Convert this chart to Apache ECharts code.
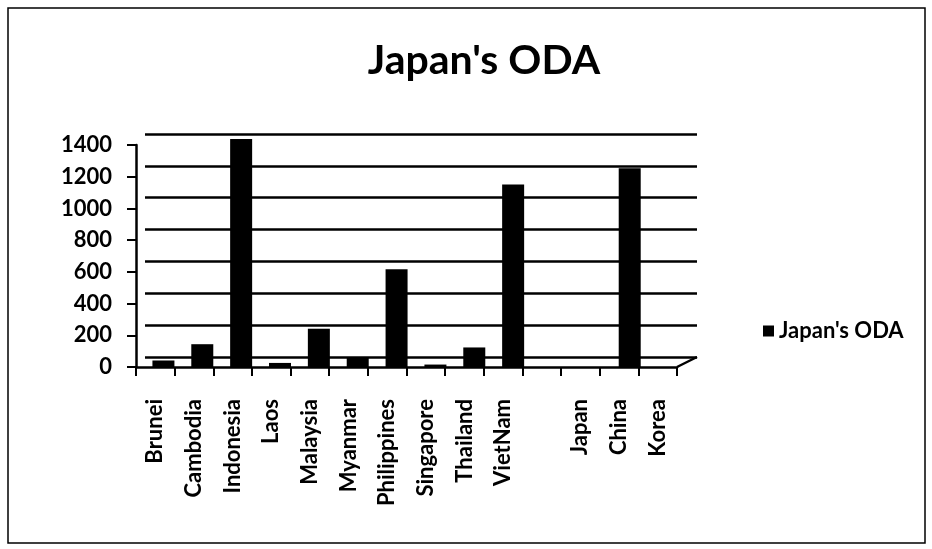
<!DOCTYPE html>
<html>
<head>
<meta charset="utf-8">
<script src="https://cdn.jsdelivr.net/npm/echarts@6/dist/echarts.min.js"></script>
<style>
  html, body { margin: 0; padding: 0; background: #fff; }
  #main { width: 932px; height: 549px; }
</style>
</head>
<body>
<div id="main"></div>
<script>
// countries on the x axis (one blank slot between VietNam and Japan)
let countries = ['Brunei', 'Cambodia', 'Indonesia', 'Laos', 'Malaysia', 'Myanmar', 'Philippines',
    'Singapore', 'Thailand', 'VietNam', '', 'Japan', 'China', 'Korea'];
// Japan's ODA values
let odaValues = [40, 140, 1400, 25, 235, 60, 600, 15, 120, 1120, null, 0, 1220, 0];
let yTicks = [0, 200, 400, 600, 800, 1000, 1200, 1400];

let font = 'Lato, "Open Sans", sans-serif';
var myChart = echarts.init(document.getElementById('main'));

let labelStyle = { fontWeight: 'bold', color: '#000', fontFamily: font };

option = {
    backgroundColor: '#fff',
    textStyle: { fontFamily: font },
    title: {
        text: "Japan's ODA",
        left: 479,
        textAlign: 'center',
        top: 35,
        textStyle: Object.assign({ fontSize: 41 }, labelStyle)
    },
    legend: {
        data: ["Japan's ODA"],
        left: 758,
        top: 315,
        itemWidth: 11,
        itemHeight: 11,
        icon: 'rect',
        itemGap: 6,
        textStyle: Object.assign({ fontSize: 22 }, labelStyle)
    },
    // 0: back wall (gridlines), 1: bars, 2: front (axes + labels)
    grid: [
        { left: 145, right: 235, top: 134, bottom: 192 },
        { left: 144, right: 244, top: 139, bottom: 182 },
        { left: 136, right: 255, top: 145, bottom: 182 }
    ],
    xAxis: [
        { type: 'category', gridIndex: 0, data: countries, show: false },
        { type: 'category', gridIndex: 1, data: countries, show: false },
        {
            type: 'category',
            gridIndex: 2,
            data: countries,
            axisLine: { lineStyle: { color: '#000', width: 2.5 } },
            axisTick: { show: true, length: 9, lineStyle: { color: '#000', width: 2 } },
            axisLabel: Object.assign({ rotate: 90, interval: 0, margin: 32, fontSize: 22 }, labelStyle)
        }
    ],
    yAxis: [
        {
            type: 'value', gridIndex: 0, min: 0, max: 1400, interval: 200,
            axisLine: { show: false }, axisTick: { show: false }, axisLabel: { show: false },
            splitLine: { lineStyle: { color: '#000', width: 2.5 } }
        },
        {
            type: 'value', gridIndex: 1, min: 0, max: 1400, interval: 200,
            show: false, splitLine: { show: false }
        },
        {
            type: 'value', gridIndex: 2, min: 0, max: 1400, interval: 200,
            axisLine: { show: true, lineStyle: { color: '#000', width: 2.5 } },
            axisTick: { show: true, length: 9, lineStyle: { color: '#000', width: 2 } },
            splitLine: { show: false },
            axisLabel: Object.assign({
                margin: 24,
                fontSize: 22,
                formatter: function (v) { return yTicks.includes(v) ? String(v) : ''; }
            }, labelStyle)
        }
    ],
    series: [{
        name: "Japan's ODA",
        type: 'bar',
        xAxisIndex: 1,
        yAxisIndex: 1,
        data: odaValues,
        barWidth: 22,
        itemStyle: { color: '#000' }
    }],
    graphic: [{
        type: 'rect',
        shape: { x: 8, y: 8, width: 917, height: 535 },
        style: { fill: 'none', stroke: '#000', lineWidth: 1.5 },
        silent: true
    }, {
        // right edge of the floor
        type: 'polyline',
        shape: { points: [[677, 367], [697, 357]] },
        style: { stroke: '#000', lineWidth: 2.5 },
        silent: true
    }]
};
myChart.setOption(option);
</script>
</body>
</html>
